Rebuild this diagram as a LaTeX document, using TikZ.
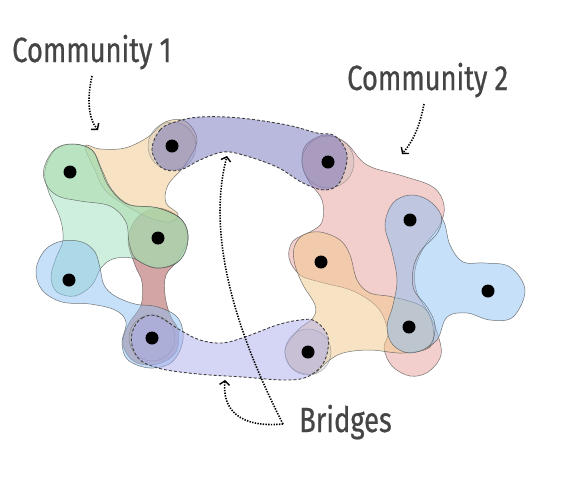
\documentclass[tikz,border=0pt]{standalone}
\usepackage{fontspec}
\newfontfamily\lblfont[FakeStretch=0.78,FakeBold=0.6]{Fira Sans}
\usetikzlibrary{arrows.meta}
\definecolor{cpeach}{HTML}{F0C88A}
\definecolor{cmint}{HTML}{9DDFBB}
\definecolor{cgreen}{HTML}{A8D8A8}
\definecolor{cblue}{HTML}{8BC1F1}
\definecolor{cred}{HTML}{A94B4B}
\definecolor{cpink}{HTML}{E59E9A}
\definecolor{clav}{HTML}{ABABEB}
\definecolor{cdlav}{HTML}{7373BB}
\definecolor{ctxt}{HTML}{454545}
\tikzset{
  blob/.style={draw=black!70, line width=0.5pt, draw opacity=0.75, fill opacity=0.5},
  bridge/.style={draw=black!75, line width=0.9pt, dash pattern=on 3pt off 2pt, fill opacity=0.5},
  ring/.style={draw=black!55, line width=0.5pt, draw opacity=0.6, fill opacity=0.25, fill=gray!60},
  dot/.style={circle, fill=black, minimum size=13pt, inner sep=0pt},
  lbl/.style={text=ctxt, font=\lblfont\fontsize{35}{40}\selectfont, inner sep=0pt},
  ptr/.style={line width=1.6pt, dash pattern=on 1.4pt off 1.3pt, -{Straight Barb[length=4pt,width=10pt,line width=1.4pt]}}
}
\def\capsulepath{plot[smooth cycle, tension=0.6] coordinates {(410,195) (428,200) (441,215) (438,232) (420,252) (413,270) (414,290) (427,307) (435,325) (430,345) (410,353) (393,345) (387,327) (393,305) (397,280) (392,252) (385,225) (393,203)}}
\begin{document}
\begin{tikzpicture}[x=1pt,y=-1pt]
\useasboundingbox (0,0) rectangle (562,483);
% ---- Community 2 ----
\draw[blob, fill=cpink] plot[smooth cycle, tension=0.6] coordinates {(306,145) (325,135) (346,143) (367,165) (403,176) (433,187) (444,205) (440,225) (424,247) (415,270) (417,293) (428,312) (437,332) (441,355) (428,372) (410,376) (392,366) (384,348) (388,332) (378,308) (353,291) (320,282) (300,275) (289,258) (293,241) (310,232) (322,222) (322,200) (308,180) (302,162)};
\draw[blob, fill=cpeach] plot[smooth cycle, tension=0.6] coordinates {(303,235) (320,232) (340,240) (350,255) (357,280) (370,293) (393,297) (423,307) (433,327) (430,347) (403,353) (370,350) (343,353) (327,362) (313,374) (293,369) (285,350) (298,330) (313,318) (315,305) (303,285) (295,265) (294,248)};
\begin{scope}[even odd rule]
\clip (0,0) rectangle (562,483) \capsulepath;
\draw[blob, fill=cblue] plot[smooth cycle, tension=0.6] coordinates {(410,198) (432,205) (444,222) (450,245) (463,262) (485,263) (510,267) (525,290) (513,317) (490,320) (467,313) (447,317) (437,340) (420,350) (405,345) (405,320) (405,290) (405,260) (405,230)};
\end{scope}
\draw[blob, fill=cblue] \capsulepath;
% ---- Community 1 ----
\draw[blob, fill=cred] plot[smooth cycle, tension=0.6] coordinates {(158,208) (180,218) (188,238) (178,260) (166,275) (165,295) (170,315) (178,330) (176,352) (158,364) (135,362) (123,345) (128,325) (141,305) (142,282) (135,265) (128,240) (137,218)};
\draw[blob, fill=cpeach] plot[smooth cycle, tension=0.6] coordinates {(85,146) (100,149) (125,148) (148,137) (165,122) (185,121) (197,140) (185,165) (168,185) (166,203) (178,214) (170,222) (150,218) (125,205) (105,190) (95,170)};
\draw[blob, fill=cmint] plot[smooth cycle, tension=0.6] coordinates {(45,170) (55,150) (73,144) (92,150) (102,170) (112,190) (130,205) (158,208) (182,220) (188,240) (178,262) (155,268) (132,258) (113,259) (101,268) (92,285) (75,296) (57,292) (51,277) (56,258) (63,240) (60,218) (48,190)};
\draw[blob, fill=cgreen] plot[smooth cycle, tension=0.6] coordinates {(44,168) (55,149) (73,144) (92,150) (100,167) (109,187) (127,204) (158,208) (182,220) (188,240) (180,260) (158,268) (136,259) (129,242) (126,222) (110,206) (80,201) (58,196) (46,184)};
\draw[blob, fill=cblue] plot[smooth cycle, tension=0.6] coordinates {(36,270) (45,250) (62,241) (82,242) (95,252) (100,268) (104,285) (115,296) (135,304) (158,307) (178,318) (183,340) (172,362) (150,368) (128,360) (122,343) (126,322) (115,310) (90,304) (62,302) (42,290)};
% ---- bridges ----
\draw[ring] (172,146) circle[radius=24pt];
\draw[ring] (328,162) circle[radius=26pt];
\draw[ring] (152,338) circle[radius=23pt];
\draw[ring] (308,352) circle[radius=23pt];
\draw[bridge, fill=cdlav] plot[smooth cycle, tension=0.6] coordinates {(152,150) (160,130) (175,122) (200,117) (240,118) (287,125) (317,133) (335,136) (347,155) (340,182) (325,190) (303,183) (277,167) (243,155) (223,152) (200,160) (180,170) (162,168)};
\draw[bridge, fill=clav] plot[smooth cycle, tension=0.6] coordinates {(133,330) (142,318) (157,316) (180,330) (200,340) (222,343) (245,337) (277,325) (300,320) (315,321) (328,337) (324,362) (307,377) (283,380) (243,377) (210,375) (180,372) (158,368) (140,360) (132,345)};
% ---- vertices ----
\node[dot] (A) at (70,172) {};
\node[dot] (B) at (158,238) {};
\node[dot] (C) at (69,280) {};
\node[dot] (D) at (172,146) {};
\node[dot] (E) at (152,338) {};
\node[dot] (F) at (328,162) {};
\node[dot] (G) at (410,220) {};
\node[dot] (H) at (321,262) {};
\node[dot] (I) at (488,291) {};
\node[dot] (J) at (409,327) {};
\node[dot] (K) at (308,352) {};
% ---- labels ----
\node[lbl, anchor=base west] (c1) at (12,62) {Community 1};
\node[lbl, anchor=base west] (c2) at (347,90) {Community 2};
\node[lbl, anchor=base west] (br) at (299,432) {Bridges};
\coordinate (c1s) at (92,76);
\coordinate (c1e) at (98,130);
\coordinate (c2s) at (424,104);
\coordinate (c2e) at (402,154);
\coordinate (brs) at (283,424);
\coordinate (bre1) at (227,156);
\coordinate (bre2) at (225,380);
\draw[ptr] (c1s) .. controls (87,98) and (88,118) .. (c1e);
\draw[ptr] (c2s) .. controls (420,125) and (414,140) .. (c2e);
\draw[ptr] (brs) .. controls (240,340) and (205,240) .. (bre1);
\draw[ptr] (brs) .. controls (240,428) and (222,410) .. (bre2);
\end{tikzpicture}
\end{document}
